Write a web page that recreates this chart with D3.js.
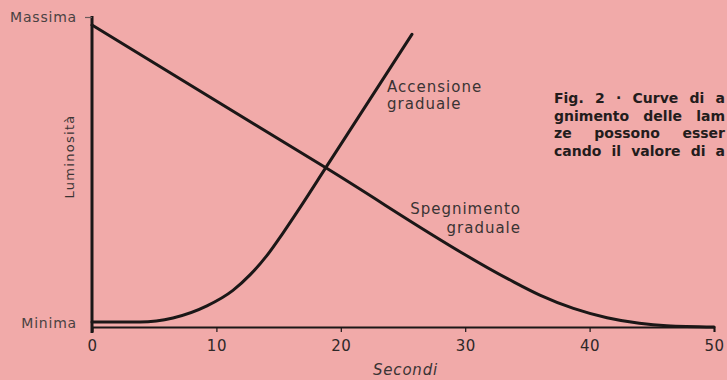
<!DOCTYPE html>
<meta charset="utf-8">
<style>
body { margin: 0; background: #f1aaa9; }
svg { display: block; font-family: "DejaVu Sans", sans-serif; }
.lbl { fill: #3a3434; font-size: 15px; letter-spacing: 1px; }
.cap { fill: #231c1c; font-size: 14px; font-weight: bold; }
.curve { fill: none; stroke: #1b1717; stroke-width: 3px; stroke-linecap: round; }
</style>
<svg width="727" height="380"></svg>
<script src="https://d3js.org/d3.v7.min.js"></script>
<script>

// tempo in secondi, luminosita in % (0 = minima, 100 = massima)
var accTempo = [0, 3.86, 6.51, 9.24, 11.33, 12.7, 14.07, 15.35, 16.72, 18.73, 25.72];
var accLum   = [1.6, 1.6, 2.9, 6.8, 11.8, 16.8, 23.1, 30.3, 38.5, 51.0, 94.4];

var speTempo = [0, 18.7, 33.4, 36, 38.7, 41.4, 44, 46.2, 50];
var speLum   = [97.4, 51.6, 15.6, 10.3, 6.0, 3.0, 1.2, 0.4, 0];

var xTicks = [0, 10, 20, 30, 40, 50];
var yTicks = [0, 100];
var yTickLabels = {0: "Minima", 100: "Massima"};

var caption = [
  "Fig. 2 · Curve di a",
  "gnimento delle lam",
  "ze possono esser",
  "cando il valore di a"
];

var svg = d3.select("svg");

var x = d3.scaleLinear().domain([0, 50]).range([92, 714]);
var y = d3.scaleLinear().domain([0, 100]).range([327, 17]);

// asse x
var xAxis = svg.append("g")
  .attr("transform", "translate(0," + y(0) + ")")
  .call(d3.axisBottom(x).tickValues(xTicks).tickSize(5).tickPadding(8));
xAxis.select(".domain").attr("stroke", "#1b1717").attr("stroke-width", 2);
xAxis.selectAll(".tick line").attr("stroke", "#1b1717").attr("stroke-width", 1.2);
xAxis.selectAll(".tick text")
  .attr("fill", "#2e2828")
  .style("font-size", "15px")
  .style("letter-spacing", "0.5px")
  .style("font-family", "'DejaVu Sans', sans-serif");

// asse y
var yAxis = svg.append("g")
  .attr("transform", "translate(" + x(0) + ",0)")
  .call(d3.axisLeft(y).tickValues(yTicks).tickSize(7).tickPadding(8)
    .tickFormat(function(d) { return yTickLabels[d]; }));
yAxis.select(".domain").attr("stroke", "#1b1717").attr("stroke-width", 3)
  .attr("d", "M0,16V333");
yAxis.selectAll(".tick line").attr("stroke", "#6a5a5a").attr("stroke-width", 1.2)
  .attr("opacity", function(d) { return d === 100 ? 1 : 0; });
yAxis.selectAll(".tick text")
  .attr("fill", "#4a4242")
  .attr("dy", function(d) { return d === 0 ? "0em" : "0.3em"; })
  .style("font-size", "14px")
  .style("letter-spacing", "0.8px")
  .style("font-family", "'DejaVu Sans', sans-serif");

svg.append("text")
  .attr("class", "lbl")
  .attr("transform", "translate(74," + y(55) + ") rotate(-90)")
  .attr("text-anchor", "middle")
  .style("font-size", "13px")
  .style("letter-spacing", "1.3px")
  .text("Luminosità");

svg.append("text")
  .attr("class", "lbl")
  .attr("x", x(25.2))
  .attr("y", 375)
  .attr("text-anchor", "middle")
  .style("font-style", "italic")
  .style("letter-spacing", "0.8px")
  .text("Secondi");

// curve
var line = d3.line()
  .x(function(d) { return x(d[0]); })
  .y(function(d) { return y(d[1]); })
  .curve(d3.curveMonotoneX);

svg.append("path")
  .attr("class", "curve")
  .attr("d", line(d3.zip(speTempo, speLum)));

svg.append("path")
  .attr("class", "curve")
  .attr("d", line(d3.zip(accTempo, accLum)));

// etichette curve
var acc = svg.append("text").attr("class", "lbl")
  .attr("x", 387).attr("y", 92);
acc.append("tspan").attr("x", 387).text("Accensione");
acc.append("tspan").attr("x", 387).attr("dy", 17).text("graduale");

var spe = svg.append("text").attr("class", "lbl")
  .attr("text-anchor", "end")
  .attr("x", 521).attr("y", 214);
spe.append("tspan").attr("x", 521).text("Spegnimento");
spe.append("tspan").attr("x", 521).attr("dy", 19).text("graduale");

// didascalia, giustificata sulla colonna
var capW = 171;
svg.append("g").selectAll("text")
  .data(caption)
  .enter()
  .append("text")
  .attr("class", "cap")
  .attr("x", 554)
  .attr("y", function(d, i) { return 103 + i * 17.5; })
  .text(function(d) { return d; })
  .each(function(d) {
    var n = d.split(" ").length - 1;
    var w = this.getComputedTextLength();
    d3.select(this).style("word-spacing", Math.max(0, (capW - w) / n) + "px");
  });

</script>
